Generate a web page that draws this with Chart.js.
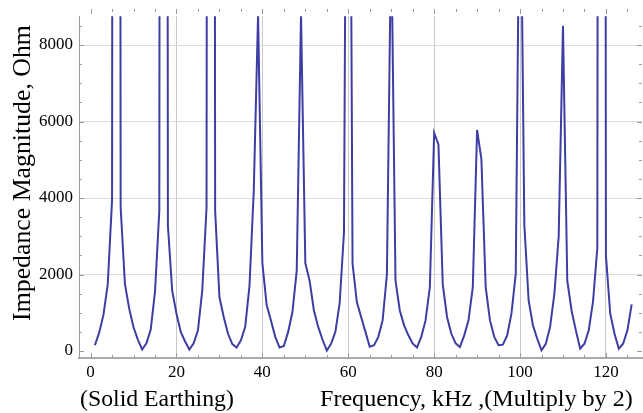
<!DOCTYPE html>
<html><head><meta charset="utf-8">
<script src="https://cdn.jsdelivr.net/npm/chart.js@4.4.1/dist/chart.umd.min.js"></script>
<style>html,body{margin:0;padding:0;background:#fff}#w{width:643px;height:413px;position:relative}</style>
</head><body><div id="w"><canvas id="c" width="643" height="413"></canvas></div>
<script>
const frequencyKHz = [1,2,3,4,5,6,7,8,9,10,11,12,13,14,15,16,17,18,19,20,21,22,23,24,25,26,27,28,29,30,31,32,33,34,35,36,37,38,39,40,41,42,43,44,45,46,47,48,49,50,51,52,53,54,55,56,57,58,59,60,61,62,63,64,65,66,67,68,69,70,71,72,73,74,75,76,77,78,79,80,81,82,83,84,85,86,87,88,89,90,91,92,93,94,95,96,97,98,99,100,101,102,103,104,105,106,107,108,109,110,111,112,113,114,115,116,117,118,119,120,121,122,123,124,125,126];
const impedanceOhm = [150,480,950,1750,3950,120000,3750,1750,1100,620,300,40,200,560,1550,3670,120000,3280,1580,975,500,250,40,200,540,1580,3750,120000,3670,1410,890,450,180,90,280,630,1700,4200,8800,2300,1200,800,370,90,130,500,1020,2100,8800,2300,1840,1060,630,300,10,190,500,1250,3100,25000,2280,1280,890,500,110,150,370,800,2000,11000,1840,1060,670,410,200,90,370,800,1670,5700,5400,1750,890,450,200,105,410,800,1670,5780,5020,1670,800,370,150,165,410,975,2015,14000,3300,1320,670,320,20,190,630,1500,3000,8500,1840,1060,540,60,190,540,1300,2700,120000,2500,975,450,60,190,540,1220];
const xTickValues = [0,20,40,60,80,100,120];
const yTickValues = [0,2000,4000,6000,8000];
const yAxisTitle = 'Impedance Magnitude, Ohm';
const leftNote = '(Solid Earthing)';
const xAxisTitle = 'Frequency, kHz ,(Multiply by 2)';

const SERIF = '"Liberation Serif", "DejaVu Serif", serif';

function fitFont(ctx, text, width, base) {
  ctx.font = base + 'px ' + SERIF;
  const w = ctx.measureText(text).width;
  return base * width / w;
}

const framePlugin = {
  id: 'framePlugin',
  afterDraw(chart) {
    const ctx = chart.ctx, xs = chart.scales.x, ys = chart.scales.y, a = chart.chartArea;
    ctx.save();
    ctx.strokeStyle = '#9a9a9a';
    ctx.lineWidth = 1;
    for (let v = 0; v <= 125; v += 5) {
      const px = Math.round(xs.getPixelForValue(v)) + 0.5;
      const major = v % 20 === 0;
      ctx.beginPath();
      ctx.moveTo(px, a.bottom); ctx.lineTo(px, a.bottom - (major ? 5 : 3));
      ctx.moveTo(px, 9); ctx.lineTo(px, 9 + (major ? 5 : 3));
      ctx.stroke();
    }
    for (let v = 0; v <= 8500; v += 500) {
      const py = Math.round(ys.getPixelForValue(v)) + 0.5;
      const major = v % 2000 === 0;
      ctx.beginPath();
      ctx.moveTo(a.left, py); ctx.lineTo(a.left + (major ? 5 : 3), py);
      ctx.moveTo(a.right, py); ctx.lineTo(a.right - (major ? 5 : 3), py);
      ctx.stroke();
    }
    ctx.fillStyle = '#000';
    let fs = fitFont(ctx, yAxisTitle, 296, 22);
    ctx.font = fs + 'px ' + SERIF;
    ctx.translate(30, 173);
    ctx.rotate(-Math.PI / 2);
    ctx.textAlign = 'center';
    ctx.textBaseline = 'alphabetic';
    ctx.fillText(yAxisTitle, 0, 0);
    ctx.setTransform(1, 0, 0, 1, 0, 0);
    fs = fitFont(ctx, leftNote, 154, 22);
    ctx.font = fs + 'px ' + SERIF;
    ctx.textAlign = 'left';
    ctx.fillText(leftNote, 80, 406);
    fs = fitFont(ctx, xAxisTitle, 313, 22);
    ctx.font = fs + 'px ' + SERIF;
    ctx.fillText(xAxisTitle, 320, 406);
    ctx.restore();
  }
};

new Chart(document.getElementById('c'), {
  type: 'line',
  data: {
    datasets: [{
      data: frequencyKHz.map((f, i) => ({ x: f, y: impedanceOhm[i] })),
      borderColor: '#3d3da3',
      borderWidth: 2,
      pointRadius: 0,
      tension: 0,
      fill: false,
      clip: 0
    }]
  },
  options: {
    responsive: false,
    animation: false,
    layout: { padding: { top: 15, right: 1, left: 0, bottom: 0 } },
    plugins: { legend: { display: false }, tooltip: { enabled: false } },
    scales: {
      x: {
        type: 'linear', min: -2.7, max: 128.4,
        afterFit(s) { s.height = 55; },
        afterBuildTicks(s) { s.ticks = xTickValues.map(v => ({ value: v })); },
        ticks: { font: { family: SERIF, size: 17 }, color: '#000', padding: 4, maxRotation: 0, includeBounds: false, callback: v => String(v) },
        grid: { drawTicks: false, color: c => (c.tick && c.tick.value === 0) ? 'rgba(0,0,0,0)' : '#c9c9c9' },
        border: { display: true, color: '#aaaaaa', width: 2 }
      },
      y: {
        type: 'linear', min: -183, max: 8753,
        afterFit(s) { s.width = 79; },
        afterBuildTicks(s) { s.ticks = yTickValues.map(v => ({ value: v })); },
        ticks: { font: { family: SERIF, size: 17 }, color: '#000', padding: 6, includeBounds: false, callback: v => String(v) },
        grid: { drawTicks: false, color: c => (c.tick && c.tick.value === 0) ? 'rgba(0,0,0,0)' : '#dddddd' },
        border: { display: true, color: '#9a9a9a', width: 1 }
      }
    }
  },
  plugins: [framePlugin]
});
</script></body></html>
